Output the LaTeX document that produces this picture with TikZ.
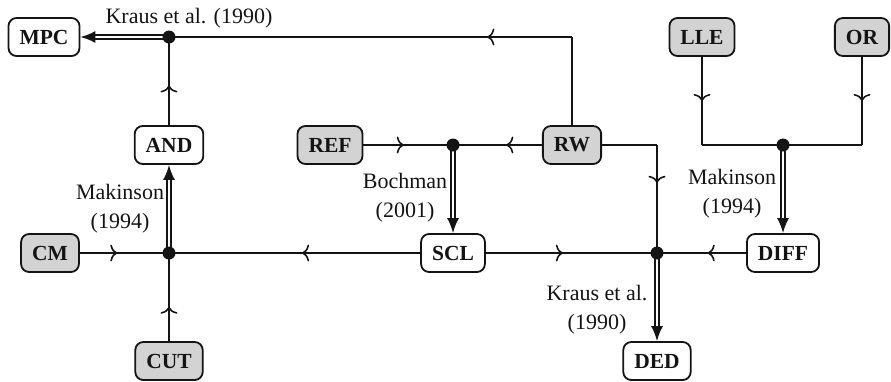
\documentclass[tikz,border=0pt]{standalone}
\usepackage{fontspec}
\setmainfont{Liberation Serif}
\usetikzlibrary{arrows.meta,decorations.markings}
\definecolor{boxgray}{RGB}{211,211,211}
\definecolor{ink}{RGB}{20,20,20}
\tikzset{
  prop/.style={draw=ink, line width=1.8pt, rounded corners=8pt, minimum height=38pt,
    inner xsep=11pt, inner ysep=0pt, text=ink, font=\fontsize{21.5}{24}\selectfont\bfseries},
  base/.style={prop, fill=boxgray},
  derived/.style={prop, fill=white},
  wire/.style={draw=ink, line width=1.8pt},
  flow/.style={wire, postaction={decorate}, decoration={markings,
    mark=at position #1 with {\arrow[line width=1.6pt]{To[length=7pt,width=17pt]}}}},
  flow/.default=0.5,
  implies/.style={draw=ink, line width=1.8pt, double, double distance=2.6pt,
    -{Latex[length=15pt,width=12pt]}},
  dot/.style={circle, fill=ink, inner sep=0pt, minimum size=13pt},
  cite/.style={text=ink, align=center, font=\fontsize{22}{29}\selectfont}
}
\begin{document}
\begin{tikzpicture}[x=1pt, y=-1pt]
  \useasboundingbox (0,0) rectangle (891,381);

  % rule boxes
  \node[derived] (MPC)  at (44,37)   {MPC};
  \node[base]    (LLE)  at (702,37)  {LLE};
  \node[base]    (OR)   at (862,37)  {OR};
  \node[derived] (AND)  at (169,145) {AND};
  \node[base]    (REF)  at (330,145) {REF};
  \node[base]    (RW)   at (572,145) {RW};
  \node[base]    (CM)   at (50,253)  {CM};
  \node[derived] (SCL)  at (453,253) {SCL};
  \node[derived] (DIFF) at (783,253) {DIFF};
  \node[base]    (CUT)  at (169,361) {CUT};
  \node[derived] (DED)  at (657,361) {DED};

  % junctions and corners
  \coordinate (j1) at (169,37);
  \coordinate (j2) at (453,145);
  \coordinate (j3) at (783,145);
  \coordinate (j4) at (169,253);
  \coordinate (j5) at (657,253);
  \coordinate (c1) at (572,37);
  \coordinate (c2) at (657,145);
  \coordinate (c3) at (702,145);
  \coordinate (c4) at (862,145);

  % premises feeding the junctions
  \draw[wire] (RW.north) -- (c1);
  \draw[flow=0.21] (c1) -- (j1);
  \draw[flow=0.45] (AND) -- (j1);
  \draw[flow=0.45] (REF) -- (j2);
  \draw[flow=0.4]  (RW) -- (j2);
  \draw[wire] (RW.east) -- (c2);
  \draw[flow=0.35] (c2) -- (j5);
  \draw[flow=0.5]  (LLE) -- (c3);
  \draw[flow=0.5]  (OR) -- (c4);
  \draw[wire] (c3) -- (c4);
  \draw[flow=0.42] (CM) -- (j4);
  \draw[flow=0.39] (CUT) -- (j4);
  \draw[flow=0.47] (SCL) -- (j4);
  \draw[flow=0.45] (SCL) -- (j5);
  \draw[flow=0.43] (DIFF) -- (j5);

  % derivations
  \draw[implies] (j1) -- (MPC);
  \draw[implies] (j4) -- (AND);
  \draw[implies] (j2) -- (SCL);
  \draw[implies] (j3) -- (DIFF);
  \draw[implies] (j5) -- (DED);

  \node[dot] (d1) at (j1) {};
  \node[dot] (d2) at (j2) {};
  \node[dot] (d3) at (j3) {};
  \node[dot] (d4) at (j4) {};
  \node[dot] (d5) at (j5) {};

  % sources
  \node[cite] (s1) at (189,18)  {Kraus et al. (1990)};
  \node[cite] (s2) at (120,209) {Makinson\\(1994)};
  \node[cite] (s3) at (405,198) {Bochman\\(2001)};
  \node[cite] (s4) at (732,194) {Makinson\\(1994)};
  \node[cite] (s5) at (597,310) {Kraus et al.\\(1990)};
\end{tikzpicture}
\end{document}
